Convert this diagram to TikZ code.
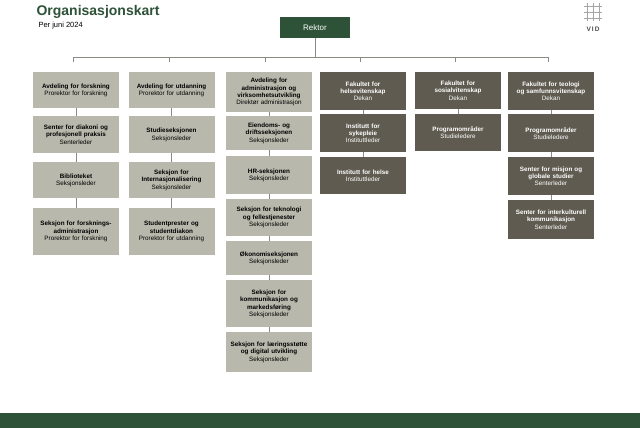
\documentclass[tikz,border=0pt]{standalone}
\usepackage{fontspec}
\setmainfont{Liberation Sans}
\definecolor{vgreen}{HTML}{2D5237}
\definecolor{lbox}{HTML}{B9B8AC}
\definecolor{dbox}{HTML}{5F5B50}
\definecolor{lnk}{HTML}{8A8A84}
\begin{document}
\begin{tikzpicture}[x=1pt,y=-1pt,
 bx/.style={minimum width=86pt,text width=84pt,align=center,inner sep=1pt,font=\fontsize{6.3}{7.4}\selectfont,anchor=north},
 lb/.style={bx,fill=lbox,text=black},
 db/.style={bx,fill=dbox,text=white},
 lk/.style={draw=lnk,line width=0.6pt}]
\useasboundingbox (0,0) rectangle (640,428);
\fill[white] (0,0) rectangle (640,428);
\fill[vgreen] (0,413) rectangle (640,428);
\node[anchor=west,text=vgreen,font=\bfseries\fontsize{14}{14}\selectfont] (title) at (33,12) {Organisasjonskart};
\node[anchor=west,font=\fontsize{7.5}{7.5}\selectfont] (sub) at (35,26) {Per juni 2024};
% logo
\foreach \i in {0,1,2} \foreach \j in {0,1,2} \fill[black!70] (587+\i*6,6+\j*6) circle (0.5pt);
\draw[black!35,line width=0.2pt] (584,12) -- (602,12) (584,18)--(602,18) (584,6)--(602,6) (593,3)--(593,21) (587,3)--(587,21) (599,3)--(599,21);
\node[font=\bfseries\fontsize{6.5}{6.5}\selectfont,text=black!70] (vid) at (593,29) {V\,I\,D};
\node[fill=vgreen,text=white,minimum width=70pt,minimum height=21pt,font=\fontsize{8}{8}\selectfont] (rektor) at (315,27.5) {Rektor};
\coordinate (h) at (315,57);
\draw[lk] (rektor.south) -- (h);
\draw[lk] (73,57) -- (548,57);
\foreach \x in {73,169,265,360,455,548} \draw[lk] (\x,57) -- (\x,62);
% col1
\node[lb,minimum height=36pt] (a1) at (76,72) {\textbf{Avdeling for forskning}\\Prorektor for forskning};
\node[lb,minimum height=37pt] (a2) at (76,116) {\textbf{Senter for diakoni og}\\\textbf{profesjonell praksis}\\Senterleder};
\node[lb,minimum height=36pt] (a3) at (76,162) {\textbf{Biblioteket}\\Seksjonsleder};
\node[lb,minimum height=47pt] (a4) at (76,208) {\textbf{Seksjon for forsknings-}\\\textbf{administrasjon}\\Prorektor for forskning};
% col2
\node[lb,minimum height=36pt] (b1) at (171.5,72) {\textbf{Avdeling for utdanning}\\Prorektor for utdanning\\[3pt]};
\node[lb,minimum height=37pt] (b2) at (171.5,116) {\textbf{Studieseksjonen}\\Seksjonsleder};
\node[lb,minimum height=36pt] (b3) at (171.5,162) {\textbf{Seksjon for}\\\textbf{Internasjonalisering}\\Seksjonsleder};
\node[lb,minimum height=47pt] (b4) at (171.5,208) {\textbf{Studentprester og}\\\textbf{studentdiakon}\\Prorektor for utdanning};
% col3
\node[lb,minimum height=40pt] (c1) at (269,72) {\textbf{Avdeling for}\\\textbf{administrasjon og}\\\textbf{virksomhetsutvikling}\\Direktør administrasjon};
\node[lb,minimum height=34pt] (c2) at (269,116) {\textbf{Eiendoms- og}\\\textbf{driftsseksjonen}\\Seksjonsleder};
\node[lb,minimum height=38pt] (c3) at (269,156) {\textbf{HR-seksjonen}\\Seksjonsleder};
\node[lb,minimum height=37pt] (c4) at (269,199) {\textbf{Seksjon for teknologi}\\\textbf{og fellestjenester}\\Seksjonsleder};
\node[lb,minimum height=34pt] (c5) at (269,241) {\textbf{Økonomiseksjonen}\\Seksjonsleder};
\node[lb,minimum height=47pt] (c6) at (269,280) {\textbf{Seksjon for}\\\textbf{kommunikasjon og}\\\textbf{markedsføring}\\Seksjonsleder};
\node[lb,minimum height=40pt] (c7) at (269,332) {\textbf{Seksjon for læringsstøtte}\\\textbf{og digital utvikling}\\Seksjonsleder};
% col4
\node[db,minimum height=38pt] (d1) at (363,72) {\textbf{Fakultet for}\\\textbf{helsevitenskap}\\Dekan};
\node[db,minimum height=38pt] (d2) at (363,114) {\textbf{Institutt for}\\\textbf{sykepleie}\\Instituttleder};
\node[db,minimum height=37pt] (d3) at (363,157) {\textbf{Institutt for helse}\\Instituttleder\\[3pt]};
% col5
\node[db,minimum height=37pt] (e1) at (458,72) {\textbf{Fakultet for}\\\textbf{sosialvitenskap}\\Dekan\\[3pt]};
\node[db,minimum height=37pt] (e2) at (458,114) {\textbf{Programområder}\\Studieledere\\[3pt]};
% col6
\node[db,minimum height=38pt] (f1) at (551,72) {\textbf{Fakultet for teologi}\\\textbf{og samfunnsvitenskap}\\Dekan};
\node[db,minimum height=38pt] (f2) at (551,114) {\textbf{Programområder}\\Studieledere\\[3pt]};
\node[db,minimum height=38pt] (f3) at (551,157) {\textbf{Senter for misjon og}\\\textbf{globale studier}\\Senterleder};
\node[db,minimum height=39pt] (f4) at (551,200) {\textbf{Senter for interkulturell}\\\textbf{kommunikasjon}\\Senterleder};
\foreach \p/\q in {a1/a2,a2/a3,a3/a4,b1/b2,b2/b3,b3/b4,c1/c2,c2/c3,c3/c4,c4/c5,c5/c6,c6/c7,d1/d2,d2/d3,e1/e2,f1/f2,f2/f3,f3/f4}
  \draw[lk] (\p.south) -- (\q.north);
\end{tikzpicture}
\end{document}
